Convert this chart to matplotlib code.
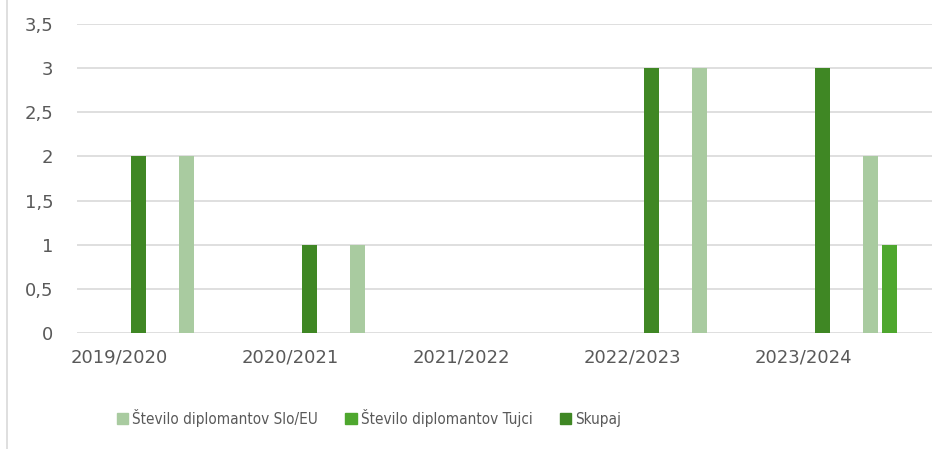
import matplotlib.pyplot as plt
from matplotlib.patches import Patch
from matplotlib.lines import Line2D
from matplotlib import font_manager
import numpy as np

# Podatki
leta = ["2019/2020", "2020/2021", "2021/2022", "2022/2023", "2023/2024"]
slo_eu = [2, 1, 0, 3, 2]
tujci = [0, 0, 0, 0, 1]
skupaj = [2, 1, 0, 3, 3]

c_slo = "#a9cba0"
c_tuj = "#4ea72e"
c_sku = "#3f8724"

fig = plt.figure(figsize=(9.52, 4.49), dpi=100)
ax = fig.add_axes([77 / 952, 116 / 449, 855 / 952, 309 / 449])

x = np.arange(len(leta))
w = 15 / 171
ax.bar(x - 0.14, skupaj, w, color=c_sku, zorder=3)
ax.bar(x + 0.14, slo_eu, w, color=c_slo, zorder=3)
ax.bar(x + 0.25, tujci, w, color=c_tuj, zorder=3)

ax.set_xlim(-0.5, 4.5)
ax.set_ylim(0, 3.5)
yt = np.arange(0, 3.51, 0.5)
ax.set_yticks(yt)
ax.set_yticklabels([("%g" % v).replace(".", ",") for v in yt])
ax.set_xticks(x - 0.254)
ax.set_xticklabels(leta)
ax.grid(axis="y", color="#d9d9d9", linewidth=1.2, zorder=0)
for s in ax.spines.values():
    s.set_visible(False)
ax.tick_params(length=0, labelsize=13, colors="#595959")
ax.tick_params(axis="y", pad=17)
ax.tick_params(axis="x", pad=11)

# Legenda (ozka pisava)
fp = font_manager.FontProperties(family="DejaVu Sans", stretch="condensed", size=11)
handles = [Patch(color=c_slo), Patch(color=c_tuj), Patch(color=c_sku)]
labels = ["Število diplomantov Slo/EU", "Število diplomantov Tujci", "Skupaj"]
fig.legend(handles, labels, loc="center", bbox_to_anchor=(369 / 952, 31 / 449),
           ncol=3, frameon=False, handlelength=0.75, handleheight=0.75,
           handletextpad=0.25, columnspacing=1.8, prop=fp,
           labelcolor="#595959")

# Rob grafa
fig.add_artist(Line2D([7 / 952, 7 / 952], [0, 1], color="#d9d9d9", linewidth=1.2))

fig.savefig("out.png", dpi=100)
